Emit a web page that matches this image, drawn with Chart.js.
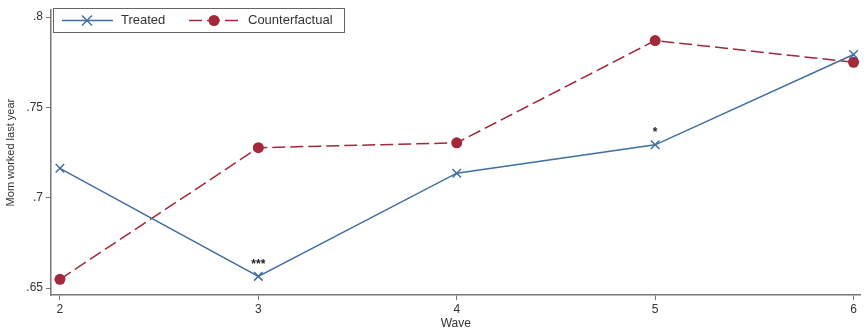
<!DOCTYPE html>
<html>
<head>
<meta charset="utf-8">
<script src="https://cdn.jsdelivr.net/npm/chart.js@4"></script>
<style>
  html, body { margin: 0; padding: 0; background: #fff; }
  #wrap { width: 868px; height: 331px; }
</style>
</head>
<body>
<div id="wrap"><canvas id="myChart" width="868" height="331"></canvas></div>
<script>
const waves = [2, 3, 4, 5, 6];
const treated = [0.7163, 0.6565, 0.7136, 0.7293, 0.7793];
const counterfactual = [0.6549, 0.7277, 0.7304, 0.787, 0.775];
const yTicks = [0.65, 0.7, 0.75, 0.8];
const stars = ['', '***', '', '*', ''];

const blue = '#3f6f9e';
const red = '#a3283a';

const toXY = vals => vals.map((v, i) => ({ x: waves[i], y: v }));

// stars above treated points + legend box
const extras = {
  id: 'extras',
  afterDatasetsDraw(chart) {
    const { ctx, scales: { x, y }, chartArea } = chart;
    ctx.save();
    ctx.fillStyle = '#222';
    ctx.font = 'bold 12px "Liberation Sans", Arial, sans-serif';
    ctx.textAlign = 'center';
    ctx.textBaseline = 'bottom';
    stars.forEach((s, i) => {
      if (!s) return;
      ctx.fillText(s, x.getPixelForValue(waves[i]), y.getPixelForValue(treated[i]) - 6);
    });

    // legend
    const lx = chartArea.left + 2, ly = 8, lw = 291, lh = 24;
    ctx.fillStyle = '#fff';
    ctx.fillRect(lx, ly, lw, lh);
    ctx.strokeStyle = '#666';
    ctx.lineWidth = 1;
    ctx.strokeRect(lx + 0.5, ly + 0.5, lw, lh);
    const cy = ly + lh / 2 + 0.5;

    ctx.strokeStyle = blue;
    ctx.lineWidth = 1.5;
    ctx.beginPath(); ctx.moveTo(lx + 9, cy); ctx.lineTo(lx + 60, cy); ctx.stroke();
    ctx.beginPath();
    const bx = lx + 34, r = 5;
    ctx.moveTo(bx - r, cy - r); ctx.lineTo(bx + r, cy + r);
    ctx.moveTo(bx + r, cy - r); ctx.lineTo(bx - r, cy + r);
    ctx.stroke();

    ctx.strokeStyle = red;
    ctx.setLineDash([13, 5]);
    ctx.beginPath(); ctx.moveTo(lx + 136, cy); ctx.lineTo(lx + 187, cy); ctx.stroke();
    ctx.setLineDash([]);
    ctx.fillStyle = red;
    ctx.beginPath(); ctx.arc(lx + 161, cy, 5.5, 0, Math.PI * 2); ctx.fill();

    ctx.fillStyle = '#333';
    ctx.font = '13px "Liberation Sans", Arial, sans-serif';
    ctx.textAlign = 'left';
    ctx.textBaseline = 'middle';
    ctx.fillText('Treated', lx + 68, cy);
    ctx.fillText('Counterfactual', lx + 195, cy);
    ctx.restore();
  }
};

const data = {
  datasets: [
    {
      label: 'Treated',
      data: toXY(treated),
      borderColor: blue,
      backgroundColor: blue,
      borderWidth: 1.5,
      pointStyle: 'crossRot',
      pointRadius: 6,
      pointBorderWidth: 1.5,
      tension: 0
    },
    {
      label: 'Counterfactual',
      data: toXY(counterfactual),
      borderColor: red,
      backgroundColor: red,
      borderWidth: 1.5,
      borderDash: [13, 5],
      pointStyle: 'circle',
      pointRadius: 5.5,
      pointBorderWidth: 0,
      tension: 0
    }
  ]
};

const tickFont = { family: '"Liberation Sans", Arial, sans-serif', size: 12 };

const config = {
  type: 'line',
  data: data,
  options: {
    responsive: false,
    animation: false,
    layout: { padding: { top: 5, right: 3, left: 4, bottom: 0 } },
    plugins: { legend: { display: false }, tooltip: { enabled: false } },
    scales: {
      x: {
        type: 'linear',
        min: 1.955,
        max: 6.035,
        afterBuildTicks: axis => { axis.ticks = waves.map(v => ({ value: v })); },
        afterFit: axis => { axis.height = 36; },
        grid: { display: true, drawOnChartArea: false, drawTicks: true, tickLength: 5, color: '#777' },
        border: { display: true, color: '#777', width: 1.5 },
        ticks: { color: '#333', font: tickFont, padding: 2, maxRotation: 0 },
        title: { display: true, text: 'Wave', color: '#333', font: tickFont, padding: { top: 0, bottom: 0 } }
      },
      y: {
        type: 'linear',
        min: 0.6462,
        max: 0.8038,
        afterBuildTicks: axis => { axis.ticks = yTicks.map(v => ({ value: v })); },
        afterFit: axis => { axis.width = 47; },
        grid: { display: true, drawOnChartArea: false, drawTicks: true, tickLength: 5, color: '#777' },
        border: { display: true, color: '#777', width: 1.5 },
        ticks: {
          color: '#333', font: tickFont, padding: 3,
          callback: v => String(v).replace(/^0/, '')
        },
        title: { display: true, text: 'Mom worked last year', color: '#333', font: { family: tickFont.family, size: 11 }, padding: { top: 0, bottom: 2 } }
      }
    }
  },
  plugins: [extras]
};

const myChart = new Chart(document.getElementById('myChart'), config);
</script>
</body>
</html>
